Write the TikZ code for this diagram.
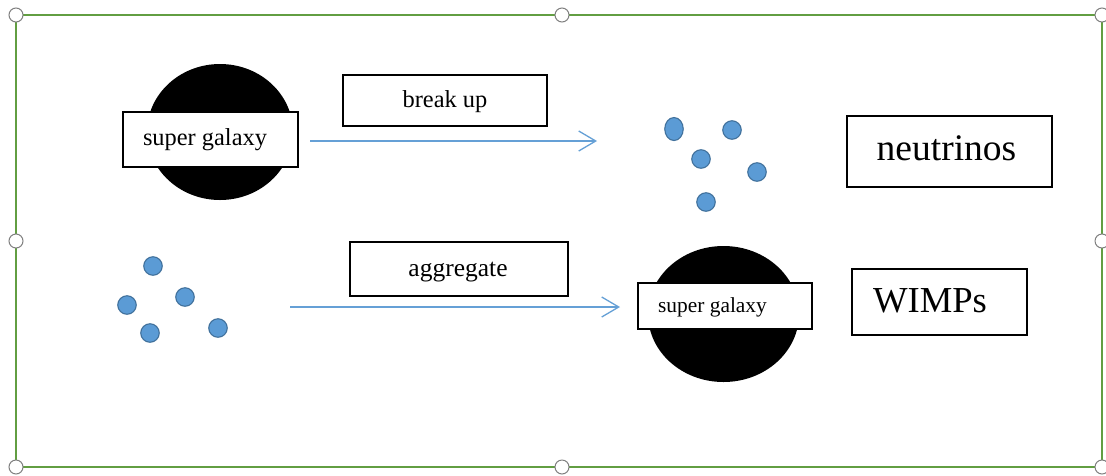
\documentclass[tikz,border=0pt]{standalone}
\usepackage{fontspec}
\setmainfont{Liberation Serif}
\usetikzlibrary{arrows.meta,shapes.geometric}
\definecolor{framegreen}{RGB}{98,158,66}
\definecolor{handlegray}{RGB}{128,128,128}
\definecolor{flowblue}{RGB}{101,160,214}
\definecolor{dotfill}{RGB}{91,155,213}
\definecolor{dotedge}{RGB}{65,113,156}
\tikzset{
  labelbox/.style={draw=black, line width=1.2pt, fill=white, inner sep=0pt},
  labeltext/.style={anchor=base, inner sep=0pt},
  galaxy/.style={ellipse, fill=black, inner sep=0pt},
  particle/.style={circle, fill=dotfill, draw=dotedge, line width=1.1pt, inner sep=0pt, minimum size=18.5pt},
  flow/.style={draw=flowblue, line width=1.3pt, -{Straight Barb[length=17pt,width=20pt,line width=1.3pt]}},
  handle/.style={circle, fill=white, draw=handlegray, line width=1pt, inner sep=0pt, minimum size=14pt},
}
\begin{document}
\begin{tikzpicture}[x=1pt,y=-1pt]
\useasboundingbox (0,0) rectangle (1106,475);
\fill[white] (0,0) rectangle (1106,475);

% selection frame with its handles
\draw[framegreen, line width=2pt] (16,15) rectangle (1102,467);
\foreach \hx/\hy [count=\i] in {16/15,562/15,1102/15,16/241,1102/241,16/467,562/467,1102/467}
  \node[handle] (h\i) at (\hx,\hy) {};

% upper row: a super galaxy breaks up into neutrinos
\node[galaxy, minimum width=146pt, minimum height=136pt] (g1) at (220,132) {};
\node[labelbox, minimum width=175pt, minimum height=55pt] (g1box) at (210.5,139.5) {};
\node[labeltext, font=\fontsize{24.4}{28}\selectfont] (g1txt) at (205,145) {super galaxy};

\node[labelbox, minimum width=204pt, minimum height=51pt] (bubox) at (445,100.5) {};
\node[labeltext, font=\fontsize{24.4}{28}\selectfont] (butxt) at (445,107) {break up};

\coordinate (a1s) at (310,141);
\coordinate (a1e) at (597,141);
\draw[flow] (a1s) -- (a1e);

\node[particle, ellipse, minimum width=18.5pt, minimum height=23pt] (n1) at (674,129) {};
\node[particle] (n2) at (732,130) {};
\node[particle] (n3) at (701,159) {};
\node[particle] (n4) at (757,172) {};
\node[particle] (n5) at (706,202) {};

\node[labelbox, minimum width=205pt, minimum height=71pt] (nubox) at (949.5,151.5) {};
\node[labeltext, font=\fontsize{37.5}{42}\selectfont] (nutxt) at (946.5,160) {neutrinos};

% lower row: WIMPs aggregate into a super galaxy
\node[particle] (w1) at (153,266) {};
\node[particle] (w2) at (127,305) {};
\node[particle] (w3) at (185,297) {};
\node[particle] (w4) at (150,333) {};
\node[particle] (w5) at (218,328) {};

\node[labelbox, minimum width=218pt, minimum height=54pt] (agbox) at (459,269) {};
\node[labeltext, font=\fontsize{25.5}{29}\selectfont] (agtxt) at (458,276) {aggregate};

\coordinate (a2s) at (290,307);
\coordinate (a2e) at (620,307);
\draw[flow] (a2s) -- (a2e);

\node[galaxy, minimum width=151pt, minimum height=136pt] (g2) at (723.5,314) {};
\node[labelbox, minimum width=174pt, minimum height=46pt] (g2box) at (725,306) {};
\node[labeltext, font=\fontsize{21.4}{25}\selectfont] (g2txt) at (712.5,312) {super galaxy};

\node[labelbox, minimum width=175pt, minimum height=66pt] (wibox) at (939.5,302) {};
\node[labeltext, font=\fontsize{36.6}{41}\selectfont] (witxt) at (930,312) {WIMPs};
\end{tikzpicture}
\end{document}
